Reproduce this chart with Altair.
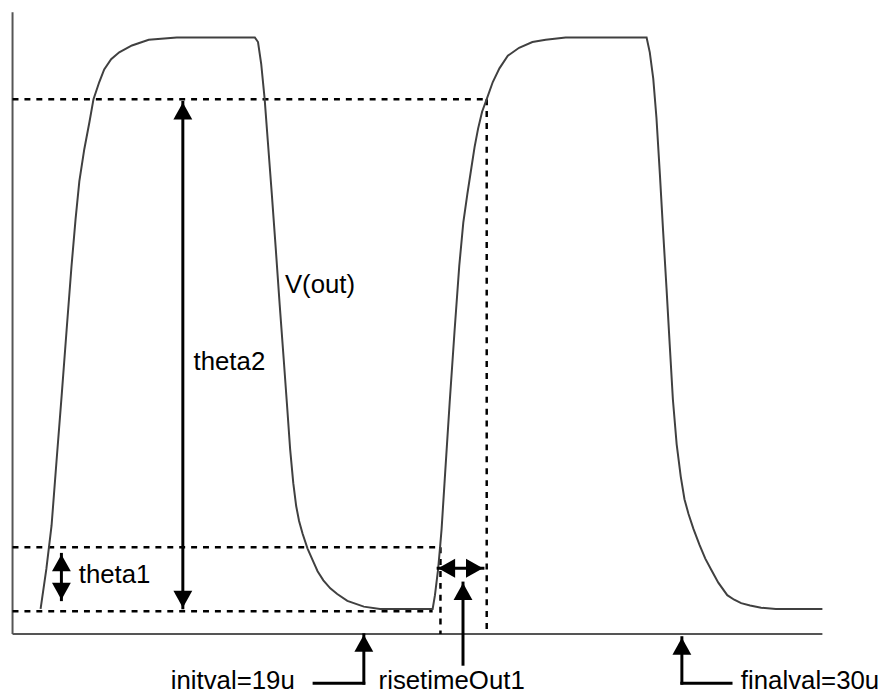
import altair as alt
import pandas as pd

# ---- V(out) trace: time in microseconds, voltage in volts ----
wave_t = [7.82, 8.02, 8.20, 8.37, 8.55, 8.72, 8.89, 9.03, 9.16, 9.33, 9.51, 9.65, 9.85, 10.02, 10.26, 10.54, 10.98, 11.56, 12.53,
          15.23, 15.34, 15.45, 15.57, 15.68, 15.82, 15.96, 16.09, 16.23, 16.35, 16.45, 16.56, 16.66, 16.76, 16.88, 17.05, 17.26, 17.40, 17.60, 17.84, 18.08, 18.43, 19.00, 19.56,
          21.38, 21.46, 21.57, 21.64, 21.69, 21.80, 21.97, 22.14, 22.30, 22.44, 22.58, 22.72, 22.83, 22.95, 23.09, 23.25, 23.46, 23.69, 23.98, 24.37, 24.83, 25.29, 25.98,
          28.78, 28.89, 29.01, 29.12, 29.24, 29.35, 29.47, 29.58, 29.69, 29.82, 29.96, 30.09, 30.23, 30.40, 30.61, 30.81, 31.02, 31.26, 31.57, 31.81, 32.05, 32.36, 32.74, 33.25, 34.86]
wave_v = [0.00, 0.35, 0.73, 1.29, 1.87, 2.44, 3.00, 3.41, 3.74, 4.02, 4.26, 4.46, 4.61, 4.72, 4.81, 4.87, 4.93, 4.98, 5.00,
          5.00, 4.96, 4.77, 4.46, 4.09, 3.62, 3.13, 2.66, 2.18, 1.76, 1.40, 1.10, 0.90, 0.77, 0.66, 0.53, 0.41, 0.33, 0.25, 0.18, 0.13, 0.07, 0.02, 0.00,
          0.00, 0.12, 0.35, 0.55, 0.70, 1.14, 1.81, 2.44, 3.00, 3.38, 3.63, 3.86, 4.04, 4.20, 4.35, 4.46, 4.61, 4.73, 4.84, 4.91, 4.96, 4.98, 5.00,
          5.00, 4.87, 4.64, 4.30, 3.80, 3.31, 2.80, 2.31, 1.83, 1.44, 1.16, 0.96, 0.83, 0.70, 0.56, 0.44, 0.34, 0.23, 0.12, 0.08, 0.05, 0.03, 0.01, 0.00, 0.00]

# ---- frame of the plot ----
axis_left = 6.85
axis_right = 34.86
axis_top = 5.22
axis_floor = -0.22

# ---- measurement levels / times ----
theta2_level = 4.46
theta1_level = 0.54
init_level = -0.02
init_level_end = 21.38
rise_start_t = 21.65
rise_end_t = 23.25

# ---- arrows: (t1, v1, t2, v2) ----
theta2_arrow = [12.74, 4.43, 12.74, 0.01]
theta1_arrow = [8.54, 0.477, 8.54, 0.081]
rise_arrow = [21.57, 0.356, 23.12, 0.356]
rise_callout = [22.43, 0.226, 22.43, -0.484]
initval_callout = [19.0, -0.226, 19.0, -0.65, 17.28]
finalval_callout = [30.0, -0.252, 30.0, -0.65, 31.70]

# ---- labels ----
label_text = ["theta2", "V(out)", "theta1", "initval=19u", "risetimeOut1", "finalval=30u"]
label_t = [13.11, 16.27, 9.14, 16.61, 19.51, 32.04]
label_v = [2.09, 2.76, 0.226, -0.699, -0.699, -0.699]
label_align = ["left", "left", "left", "right", "left", "left"]

# scale domains
T0, T1 = 6.693, 36.887
V0, V1 = -0.712, 5.234
W, H = 880, 685

xs = alt.Scale(domain=[T0, T1], nice=False, zero=False)
ys = alt.Scale(domain=[V0, V1], nice=False, zero=False)

wave = pd.DataFrame({"t": wave_t, "v": wave_v, "i": range(len(wave_t))})

axes_df = pd.DataFrame([
    {"t": axis_left, "v": axis_floor, "t2": axis_left, "v2": axis_top},
    {"t": axis_left, "v": axis_floor, "t2": axis_right, "v2": axis_floor},
])

dashed_df = pd.DataFrame([
    {"t": axis_left, "v": theta2_level, "t2": rise_end_t, "v2": theta2_level},
    {"t": axis_left, "v": theta1_level, "t2": rise_start_t, "v2": theta1_level},
    {"t": axis_left, "v": init_level, "t2": init_level_end, "v2": init_level},
    {"t": rise_start_t, "v": theta1_level, "t2": rise_start_t, "v2": axis_floor},
    {"t": rise_end_t, "v": theta2_level, "t2": rise_end_t, "v2": axis_floor},
])

cols = ["t", "v", "t2", "v2"]
arrow_df = pd.DataFrame([
    dict(zip(cols, theta2_arrow)),
    dict(zip(cols, theta1_arrow)),
    dict(zip(cols, rise_arrow)),
    dict(zip(cols, rise_callout)),
    dict(zip(cols, initval_callout[:4])),
    {"t": initval_callout[2], "v": initval_callout[3], "t2": initval_callout[4], "v2": initval_callout[3]},
    dict(zip(cols, finalval_callout[:4])),
    {"t": finalval_callout[2], "v": finalval_callout[3], "t2": finalval_callout[4], "v2": finalval_callout[3]},
])

UP = "M0,0L-1,1.8L1,1.8Z"
DOWN = "M0,0L-1,-1.8L1,-1.8Z"
LEFT = "M0,0L1.8,-1L1.8,1Z"
RIGHT = "M0,0L-1.8,-1L-1.8,1Z"

heads_df = pd.DataFrame([
    {"t": theta2_arrow[0], "v": theta2_arrow[1], "dir": "up"},
    {"t": theta2_arrow[2], "v": theta2_arrow[3], "dir": "down"},
    {"t": theta1_arrow[0], "v": theta1_arrow[1], "dir": "up"},
    {"t": theta1_arrow[2], "v": theta1_arrow[3], "dir": "down"},
    {"t": rise_arrow[0], "v": rise_arrow[1], "dir": "left"},
    {"t": rise_arrow[2], "v": rise_arrow[3], "dir": "right"},
    {"t": rise_callout[0], "v": rise_callout[1], "dir": "up"},
    {"t": initval_callout[0], "v": initval_callout[1], "dir": "up"},
    {"t": finalval_callout[0], "v": finalval_callout[1], "dir": "up"},
])

labels_df = pd.DataFrame({"t": label_t, "v": label_v, "text": label_text, "align": label_align})

X = alt.X("t:Q", scale=xs, axis=None)
Y = alt.Y("v:Q", scale=ys, axis=None)

axes_layer = alt.Chart(axes_df).mark_rule(color="#555555", strokeWidth=2).encode(
    x=X, y=Y, x2="t2:Q", y2="v2:Q")

dashed_layer = alt.Chart(dashed_df).mark_rule(color="black", strokeWidth=2.5, strokeDash=[6, 6]).encode(
    x=X, y=Y, x2="t2:Q", y2="v2:Q")

wave_layer = alt.Chart(wave).mark_line(color="#404040", strokeWidth=2).encode(
    x=X, y=Y, order="i:Q")

arrow_layer = alt.Chart(arrow_df).mark_rule(color="black", strokeWidth=3, strokeCap="square").encode(
    x=X, y=Y, x2="t2:Q", y2="v2:Q")

head_layers = []
for d, path in [("up", UP), ("down", DOWN), ("left", LEFT), ("right", RIGHT)]:
    head_layers.append(
        alt.Chart(heads_df[heads_df["dir"] == d]).mark_point(
            shape=path, filled=True, color="black", opacity=1, size=361, strokeWidth=0
        ).encode(x=X, y=Y)
    )

text_layers = []
for al in ["left", "right"]:
    text_layers.append(
        alt.Chart(labels_df[labels_df["align"] == al]).mark_text(
            align=al, baseline="alphabetic", font="Liberation Sans", fontSize=26, color="black"
        ).encode(x=X, y=Y, text="text:N")
    )

chart = alt.layer(axes_layer, dashed_layer, wave_layer, arrow_layer, *head_layers, *text_layers).properties(
    width=W, height=H, padding=0, autosize=alt.AutoSizeParams(type="none"), background="white"
).configure_view(stroke=None)

chart.save("out.html", embed_options={"renderer": "svg", "actions": False})
